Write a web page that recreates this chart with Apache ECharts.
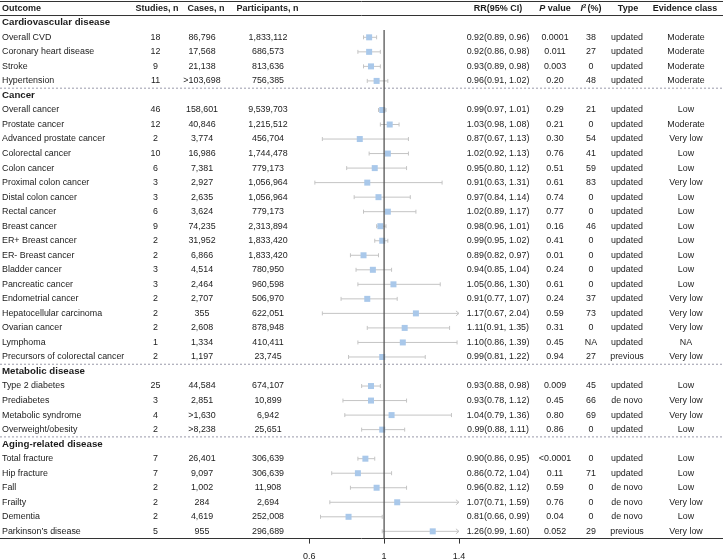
<!DOCTYPE html>
<html><head><meta charset="utf-8">
<script src="https://cdn.jsdelivr.net/npm/echarts@6/dist/echarts.min.js"></script>
<style>html,body{margin:0;padding:0;background:#fff}#c{width:723px;height:559px}</style>
</head><body><div id="c"></div><script>
// ---------------- data ----------------
const groupNames = ['Cardiovascular disease', 'Cancer', 'Metabolic disease', 'Aging-related disease'];
const groupSizes = [4, 18, 4, 6];
const outcomes = ['Overall CVD','Coronary heart disease','Stroke','Hypertension',
  'Overall cancer','Prostate cancer','Advanced prostate cancer','Colorectal cancer','Colon cancer','Proximal colon cancer','Distal colon cancer','Rectal cancer','Breast cancer','ER+ Breast cancer','ER- Breast cancer','Bladder cancer','Pancreatic cancer','Endometrial cancer','Hepatocellular carcinoma','Ovarian cancer','Lymphoma','Precursors of colorectal cancer',
  'Type 2 diabetes','Prediabetes','Metabolic syndrome','Overweight/obesity',
  'Total fracture','Hip fracture','Fall','Frailty','Dementia','Parkinson\u2019s disease'];
const studies = [18,12,9,11, 46,12,2,10,6,3,3,6,9,2,2,3,3,2,2,2,1,2, 25,3,4,2, 7,7,2,2,2,5];
const cases = ['86,796','17,568','21,138','>103,698','158,601','40,846','3,774','16,986','7,381','2,927','2,635','3,624','74,235','31,952','6,866','4,514','2,464','2,707','355','2,608','1,334','1,197','44,584','2,851','>1,630','>8,238','26,401','9,097','1,002','284','4,619','955'];
const participants = ['1,833,112','686,573','813,636','756,385','9,539,703','1,215,512','456,704','1,744,478','779,173','1,056,964','1,056,964','779,173','2,313,894','1,833,420','1,833,420','780,950','960,598','506,970','622,051','878,948','410,411','23,745','674,107','10,899','6,942','25,651','306,639','306,639','11,908','2,694','252,008','296,689'];
const rr = [0.92,0.92,0.93,0.96, 0.99,1.03,0.87,1.02,0.95,0.91,0.97,1.02,0.98,0.99,0.89,0.94,1.05,0.91,1.17,1.11,1.10,0.99, 0.93,0.93,1.04,0.99, 0.90,0.86,0.96,1.07,0.81,1.26];
const ciLow = [0.89,0.86,0.89,0.91, 0.97,0.98,0.67,0.92,0.80,0.63,0.84,0.89,0.96,0.95,0.82,0.85,0.86,0.77,0.67,0.91,0.86,0.81, 0.88,0.78,0.79,0.88, 0.86,0.72,0.82,0.71,0.66,0.99];
const ciHigh = [0.96,0.98,0.98,1.02, 1.01,1.08,1.13,1.13,1.12,1.31,1.14,1.17,1.01,1.02,0.97,1.04,1.30,1.07,2.04,1.35,1.39,1.22, 0.98,1.12,1.36,1.11, 0.95,1.04,1.12,1.59,0.99,1.60];
const pValues = ['0.0001','0.011','0.003','0.20','0.29','0.21','0.30','0.76','0.51','0.61','0.74','0.77','0.16','0.41','0.01','0.24','0.61','0.24','0.59','0.31','0.45','0.94','0.009','0.45','0.80','0.86','<0.0001','0.11','0.59','0.76','0.04','0.052'];
const i2 = ['38','27','0','48','21','0','54','41','59','83','0','0','46','0','0','0','0','37','73','0','NA','27','45','66','69','0','0','71','0','0','0','29'];
const types = ['updated','updated','updated','updated','updated','updated','updated','updated','updated','updated','updated','updated','updated','updated','updated','updated','updated','updated','updated','updated','updated','previous','updated','de novo','updated','updated','updated','updated','de novo','de novo','de novo','previous'];
const evidence = ['Moderate','Moderate','Moderate','Moderate','Low','Moderate','Very low','Low','Low','Very low','Low','Low','Low','Low','Low','Low','Low','Very low','Very low','Very low','NA','Very low','Low','Very low','Very low','Low','Low','Low','Low','Very low','Low','Very low'];
const xTicks = [0.6, 1, 1.4];
const axisCap = 1.4;

// ---------------- layout ----------------
const FF = '"Liberation Sans", Arial, Helvetica, sans-serif';
const TXT = '#1c1c1c';
const colX = { outcome: 2, studies: 155.5, cases: 202, part: 268, rr: 498, p: 555, i2: 591, type: 627, ev: 686 };
const headX = { studies: 157, cases: 206, part: 267.5, rr: 498, p: 555, i2: 591, type: 628, ev: 685 };

// rows: header, then group header + items
const rows = [{ kind: 'header' }];
const groupEnds = [];
let k = 0;
groupNames.forEach((g, gi) => {
  rows.push({ kind: 'group', name: g });
  for (let j = 0; j < groupSizes[gi]; j++) rows.push({ kind: 'item', i: k++ });
  groupEnds.push(rows.length - 1);
});
const categories = rows.map((r, i) => 'r' + i);
const itemRow = [];
rows.forEach((r, ri) => { if (r.kind === 'item') itemRow[r.i] = ri; });

const pxPerUnit = 187.1, onePx = 384.1, W = 723;
const xMin = 1 - onePx / pxPerUnit, xMax = 1 + (W - onePx) / pxPerUnit;

function txt(x, y, s, align, size, weight) {
  return { type: 'text', x: x, y: y, style: { text: s, align: align, verticalAlign: 'middle', fontFamily: FF, fontSize: size, fontWeight: weight || 'normal', fill: TXT } };
}

const chart = echarts.init(document.getElementById('c'), null, { renderer: 'canvas' });
chart.setOption({
  animation: false,
  backgroundColor: '#fff',
  grid: { left: 0, right: 0, top: 1, height: 537.6, outerBoundsMode: 'none' },
  xAxis: [{
    type: 'value', min: xMin, max: xMax, position: 'bottom',
    axisLine: { show: true, lineStyle: { color: '#333', width: 1 } },
    axisTick: { show: true, customValues: xTicks, length: 5, lineStyle: { color: '#333' } },
    axisLabel: { show: true, customValues: xTicks, margin: 13, fontFamily: FF, fontSize: 9, color: TXT, formatter: v => String(v) },
    splitLine: { show: false }
  }, {
    type: 'value', min: xMin, max: xMax, position: 'top',
    axisLine: { show: true, lineStyle: { color: '#333', width: 1 } },
    axisTick: { show: false }, axisLabel: { show: false }, splitLine: { show: false }
  }],
  yAxis: { type: 'category', data: categories, inverse: true, show: false },
  series: [
    // separators
    {
      type: 'custom', silent: true,
      data: groupEnds.slice(0, -1).map(r => [0, r]).concat([[1, 0]]),
      renderItem: function (params, api) {
        const kind = api.value(0), r = api.value(1);
        const y = (api.coord([1, r])[1] + api.coord([1, r + 1])[1]) / 2;
        if (kind === 1) {
          return { type: 'line', shape: { x1: 0, y1: y, x2: W, y2: y }, style: { stroke: '#333', lineWidth: 1 } };
        }
        return { type: 'line', shape: { x1: 0, y1: y, x2: W, y2: y }, style: { stroke: '#9a9aaa', lineWidth: 1, lineDash: [2, 2] } };
      }
    },
    // CI whiskers and markers
    {
      type: 'custom', silent: true, clip: false,
      data: rr.map((v, i) => [v, ciLow[i], ciHigh[i], itemRow[i]]),
      renderItem: function (params, api) {
        const y = api.coord([1, api.value(3)])[1];
        const est = api.value(0), lo = api.value(1), hi = api.value(2);
        const xl = api.coord([lo, 0])[0];
        const clipped = hi > axisCap;
        const xh = api.coord([Math.min(hi, axisCap), 0])[0];
        const xm = api.coord([est, 0])[0];
        const c = '#c4c4c4';
        const ch = [
          { type: 'line', shape: { x1: xl, y1: y, x2: xh, y2: y }, style: { stroke: c, lineWidth: 1 } },
          { type: 'line', shape: { x1: xl, y1: y - 2, x2: xl, y2: y + 2 }, style: { stroke: c, lineWidth: 1 } }
        ];
        if (clipped) {
          ch.push({ type: 'polyline', shape: { points: [[xh - 3, y - 2.5], [xh, y], [xh - 3, y + 2.5]] }, style: { stroke: c, fill: null, lineWidth: 1 } });
        } else {
          ch.push({ type: 'line', shape: { x1: xh, y1: y - 2, x2: xh, y2: y + 2 }, style: { stroke: c, lineWidth: 1 } });
        }
        ch.push({ type: 'rect', shape: { x: xm - 3, y: y - 3, width: 6, height: 6 }, style: { fill: '#a9c8ea' } });
        return { type: 'group', children: ch };
      }
    },
    // reference line at 1
    {
      type: 'custom', silent: true, clip: false,
      data: [[1, 1, rows.length - 1]],
      renderItem: function (params, api) {
        const x = api.coord([api.value(0), 0])[0];
        const y1 = (api.coord([1, api.value(1)])[1] + api.coord([1, api.value(1) + 1])[1]) / 2;
        const yb = params.coordSys.y + params.coordSys.height;
        return { type: 'line', shape: { x1: x, y1: y1, x2: x, y2: yb }, style: { stroke: '#555', lineWidth: 1.3 } };
      }
    },
    // table text
    {
      type: 'custom', silent: true, clip: false,
      data: rows.map((r, i) => [0, i]),
      renderItem: function (params, api) {
        const ri = api.value(1);
        const row = rows[ri];
        const y = api.coord([1, ri])[1];
        if (row.kind === 'header') {
          const B = 'bold';
          return { type: 'group', children: [
            txt(colX.outcome, y, 'Outcome', 'left', 9, B),
            txt(headX.studies, y, 'Studies, n', 'center', 9, B),
            txt(headX.cases, y, 'Cases, n', 'center', 9, B),
            txt(headX.part, y, 'Participants, n', 'center', 9, B),
            txt(headX.rr, y, 'RR(95% CI)', 'center', 9, B),
            { type: 'text', x: headX.p, y: y, style: { text: '{i|P} value', align: 'center', verticalAlign: 'middle', fontFamily: FF, fontSize: 9, fontWeight: B, fill: TXT,
              rich: { i: { fontFamily: FF, fontSize: 9, fontWeight: B, fontStyle: 'italic', fill: TXT } } } },
            { type: 'text', x: headX.i2, y: y, style: { text: '{i|I}{s|2}(%)', align: 'center', verticalAlign: 'middle', fontFamily: FF, fontSize: 9, fontWeight: B, fill: TXT,
              rich: { i: { fontFamily: FF, fontSize: 9, fontWeight: B, fontStyle: 'italic', fill: TXT },
                      s: { fontFamily: FF, fontSize: 6, fontWeight: B, fill: TXT, verticalAlign: 'top', padding: [0, 1, 4, 0] } } } },
            txt(headX.type, y, 'Type', 'center', 9, B),
            txt(headX.ev, y, 'Evidence class', 'center', 9, B)
          ] };
        }
        if (row.kind === 'group') {
          return txt(colX.outcome, y, row.name, 'left', 9.7, 'bold');
        }
        const i = row.i, S = 8.9;
        const rrStr = rr[i].toFixed(2) + '(' + ciLow[i].toFixed(2) + ', ' + ciHigh[i].toFixed(2) + ')';
        return { type: 'group', children: [
          txt(colX.outcome, y, outcomes[i], 'left', S),
          txt(colX.studies, y, String(studies[i]), 'center', S),
          txt(colX.cases, y, cases[i], 'center', S),
          txt(colX.part, y, participants[i], 'center', S),
          txt(colX.rr, y, rrStr, 'center', S),
          txt(colX.p, y, pValues[i], 'center', S),
          txt(colX.i2, y, i2[i], 'center', S),
          txt(colX.type, y, types[i], 'center', S),
          txt(colX.ev, y, evidence[i], 'center', S)
        ] };
      }
    }
  ]
});
</script></body></html>
